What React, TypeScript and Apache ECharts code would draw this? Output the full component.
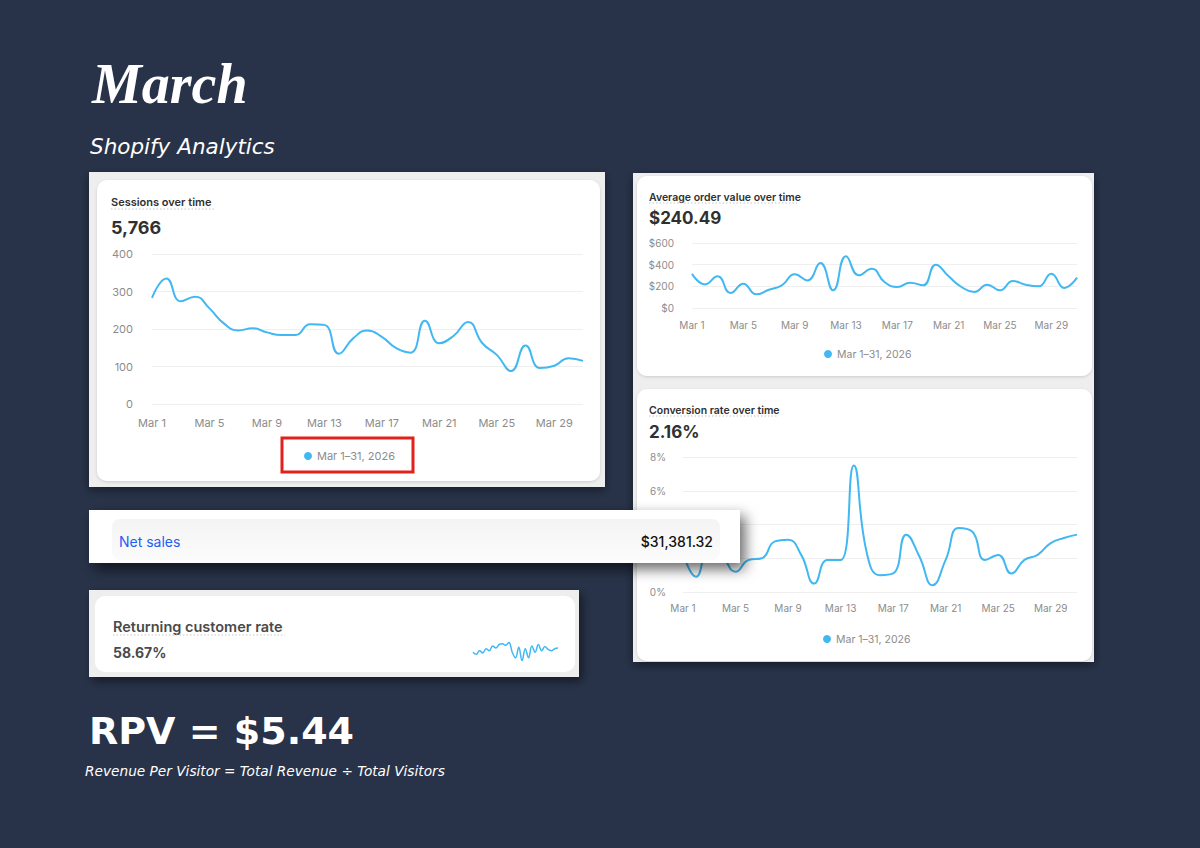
import { useEffect, useRef } from 'react'
import * as echarts from 'echarts'

const dates = Array.from({ length: 31 }, (_, i) => `Mar ${i + 1}`)
const rangeName = 'Mar 1–31, 2026'

// daily sessions
const sessions = [283, 335, 274, 286, 255, 215, 196, 202, 191, 184, 184, 213, 211, 134, 175, 196, 179, 149, 137, 222, 162, 182, 219, 162, 131, 88, 156, 96, 102, 122, 115]
// average order value, $
const aov = [317, 218, 292, 138, 225, 126, 169, 209, 311, 255, 415, 163, 477, 302, 363, 240, 194, 234, 209, 400, 292, 194, 148, 215, 163, 249, 215, 200, 317, 185, 280]
// conversion rate, %
const conversion = [2.3, 0.9, 2.6, 2.1, 1.2, 1.9, 2.0, 3.0, 3.1, 2.2, 0.5, 1.9, 1.9, 7.5, 2.3, 1.0, 1.1, 3.4, 2.1, 0.4, 1.9, 3.8, 3.6, 1.9, 2.2, 1.1, 1.9, 2.2, 2.9, 3.2, 3.4]
// returning customer rate sparkline, %
const returning = [52, 49, 54, 51, 57, 54, 61, 58, 63, 64, 62, 66, 52, 44, 59, 40, 57, 44, 61, 52, 63, 54, 60, 56, 54, 57, 58]

const sessionsTicks = { min: 0, max: 400, interval: 100 }
const aovTicks = { min: 0, max: 600, interval: 200 }
const convTicks = { min: 0, max: 8, interval: 2 }

const BLUE = '#41b8f2'
const FONT = 'Inter'
const LABEL = '#8c8c8c'

function text(x: number, y: number, t: string, font: string, fill: string, z = 3, align = 'left') {
  return {
    type: 'text',
    z,
    style: { x, y, text: t, font, fill, textAlign: align, textVerticalAlign: 'middle', align, verticalAlign: 'middle' },
  }
}

function dotted(x1: number, x2: number, y: number, z = 3) {
  return {
    type: 'line',
    z,
    shape: { x1, y1: y, x2, y2: y },
    style: { stroke: '#c4c4c4', lineWidth: 1, lineDash: [1.5, 2] },
  }
}

function lineChart(i: number, data: number[], fontSize: number, margin: number) {
  return {
    xAxis: {
      type: 'category',
      gridIndex: i,
      data: dates,
      boundaryGap: false,
      z: 4,
      axisLine: { show: false },
      axisTick: { show: false },
      axisLabel: { interval: 3, color: LABEL, fontFamily: FONT, fontSize, margin },
    },
    series: {
      type: 'line',
      name: rangeName,
      xAxisIndex: i,
      yAxisIndex: i,
      data,
      smooth: 0.5,
      showSymbol: false,
      z: 5,
      lineStyle: { color: BLUE, width: 2 },
      itemStyle: { color: BLUE },
    },
  }
}

function yAxis(i: number, ticks: { min: number; max: number; interval: number }, fmt: (v: number) => string, fontSize: number, margin: number) {
  return {
    type: 'value',
    gridIndex: i,
    ...ticks,
    z: 4,
    axisLine: { show: false },
    axisTick: { show: false },
    splitLine: { lineStyle: { color: '#efefef' } },
    axisLabel: { color: LABEL, fontFamily: FONT, fontSize, margin, formatter: fmt },
  }
}

export default function App() {
  const ref = useRef<HTMLDivElement>(null)

  useEffect(() => {
    if (!ref.current) return
    const chart = echarts.init(ref.current, null, { renderer: 'svg' })

    const c0 = lineChart(0, sessions, 11, 13)
    const c1 = lineChart(1, aov, 10, 12)
    const c2 = lineChart(2, conversion, 10, 11)

    const graphic = [
      { type: 'rect', z: 0, shape: { x: 0, y: 0, width: 1200, height: 848 }, style: { fill: '#283349' } },
      {
        type: 'text', z: 3,
        style: { x: 92, y: 84, text: 'March', font: 'italic bold 56px "Liberation Serif"', fill: '#ffffff', textVerticalAlign: 'middle', verticalAlign: 'middle', shadowBlur: 6, shadowColor: 'rgba(0,0,0,0.4)' },
      },
      text(90, 146, 'Shopify Analytics', 'italic 21.5px "DejaVu Sans"', '#ffffff'),

      // sessions screenshot
      { type: 'rect', z: 1, shape: { x: 89, y: 172, width: 516, height: 315 }, style: { fill: '#eeeeee', shadowBlur: 10, shadowOffsetY: 3, shadowColor: 'rgba(0,0,0,0.45)' } },
      { type: 'rect', z: 2, shape: { x: 97, y: 180, width: 503, height: 301, r: 10 }, style: { fill: '#ffffff', shadowBlur: 3, shadowOffsetY: 1, shadowColor: 'rgba(0,0,0,0.15)' } },
      text(111, 202, 'Sessions over time', `600 11px ${FONT}`, '#303030'),
      dotted(111, 214, 209),
      text(111, 227, '5,766', `bold 18px ${FONT}`, '#303030'),
      { type: 'rect', z: 6, shape: { x: 282, y: 438, width: 131, height: 34 }, style: { fill: 'none', stroke: '#e3211c', lineWidth: 3 } },

      // right column screenshot
      { type: 'rect', z: 1, shape: { x: 633, y: 173, width: 461, height: 489 }, style: { fill: '#eeeeee', shadowBlur: 10, shadowOffsetY: 3, shadowColor: 'rgba(0,0,0,0.45)' } },
      { type: 'rect', z: 2, shape: { x: 637, y: 176, width: 455, height: 200, r: 10 }, style: { fill: '#ffffff', shadowBlur: 3, shadowOffsetY: 1, shadowColor: 'rgba(0,0,0,0.15)' } },
      text(649, 197, 'Average order value over time', `600 10.5px ${FONT}`, '#303030'),
      dotted(649, 797, 203),
      text(649, 218, '$240.49', `bold 17px ${FONT}`, '#303030'),
      { type: 'rect', z: 2, shape: { x: 637, y: 389, width: 455, height: 272, r: 10 }, style: { fill: '#ffffff', shadowBlur: 3, shadowOffsetY: 1, shadowColor: 'rgba(0,0,0,0.15)' } },
      text(649, 410, 'Conversion rate over time', `600 10.5px ${FONT}`, '#303030'),
      dotted(649, 777, 416),
      text(649, 432, '2.16%', `bold 17px ${FONT}`, '#303030'),

      // net sales strip
      { type: 'rect', z: 10, shape: { x: 89, y: 510, width: 651, height: 53 }, style: { fill: '#ffffff', shadowBlur: 14, shadowOffsetX: 5, shadowOffsetY: 6, shadowColor: 'rgba(0,0,0,0.6)' } },
      {
        type: 'rect', z: 11, shape: { x: 112, y: 519, width: 608, height: 41, r: 8 },
        style: { fill: new echarts.graphic.LinearGradient(0, 0, 0, 1, [{ offset: 0, color: '#f4f4f4' }, { offset: 1, color: '#fbfbfb' }]) },
      },
      text(119, 541, 'Net sales', `14px ${FONT}`, '#1f5ef5', 12),
      text(713, 541, '$31,381.32', `500 14px ${FONT}`, '#111111', 12, 'right'),

      // returning customer card
      { type: 'rect', z: 10, shape: { x: 89, y: 590, width: 490, height: 87 }, style: { fill: '#eeeeee', shadowBlur: 10, shadowOffsetX: 3, shadowOffsetY: 4, shadowColor: 'rgba(0,0,0,0.5)' } },
      { type: 'rect', z: 11, shape: { x: 95, y: 596, width: 480, height: 76, r: 10 }, style: { fill: '#ffffff' } },
      text(113, 626, 'Returning customer rate', `600 14.5px ${FONT}`, '#4a4a4a', 12),
      dotted(113, 285, 635, 12),
      text(113, 652, '58.67%', `bold 14px ${FONT}`, '#4a4a4a', 12),

      // RPV
      {
        type: 'text', z: 3,
        style: { x: 89, y: 731, text: 'RPV = $5.44', font: 'bold 38px "DejaVu Sans"', fill: '#ffffff', textVerticalAlign: 'middle', verticalAlign: 'middle', shadowBlur: 6, shadowColor: 'rgba(0,0,0,0.35)' },
      },
      text(85, 771, 'Revenue Per Visitor = Total Revenue ÷ Total Visitors', 'italic 13.7px "DejaVu Sans"', '#ffffff'),
    ]

    const legendBase = {
      data: [rangeName],
      icon: 'circle',
      itemWidth: 8,
      itemHeight: 8,
      itemGap: 5,
      padding: 0,
      selectedMode: false,
      z: 5,
      textStyle: { color: LABEL, fontFamily: FONT, fontSize: 10.5, lineHeight: 14 },
    }

    chart.setOption({
      animation: false,
      graphic,
      legend: [
        { ...legendBase, left: 304, top: 449, textStyle: { ...legendBase.textStyle, fontSize: 11 } },
        { ...legendBase, left: 824, top: 347 },
        { ...legendBase, left: 823, top: 632 },
      ],
      grid: [
        { left: 152, top: 254, width: 431, height: 150 },
        { left: 692, top: 243, width: 385, height: 65 },
        { left: 683, top: 457, width: 394, height: 135 },
        { left: 473, top: 641, width: 85, height: 21, z: 12 },
      ],
      xAxis: [
        c0.xAxis,
        c1.xAxis,
        c2.xAxis,
        { type: 'category', gridIndex: 3, show: false, boundaryGap: false, data: returning.map((_, i) => i) },
      ],
      yAxis: [
        yAxis(0, sessionsTicks, (v) => `${v}`, 11, 19),
        yAxis(1, aovTicks, (v) => `$${v}`, 10, 18),
        yAxis(2, convTicks, (v) => `${v}%`, 10, 17),
        { type: 'value', gridIndex: 3, show: false, min: 38, max: 68 },
      ],
      series: [
        c0.series,
        c1.series,
        c2.series,
        {
          type: 'line',
          name: 'Returning customer rate',
          xAxisIndex: 3,
          yAxisIndex: 3,
          data: returning,
          smooth: 0.4,
          showSymbol: false,
          z: 13,
          lineStyle: { color: BLUE, width: 1.5 },
        },
      ],
    })

    return () => chart.dispose()
  }, [])

  return <div ref={ref} style={{ position: 'absolute', left: 0, top: 0, width: 1200, height: 848 }} />
}
